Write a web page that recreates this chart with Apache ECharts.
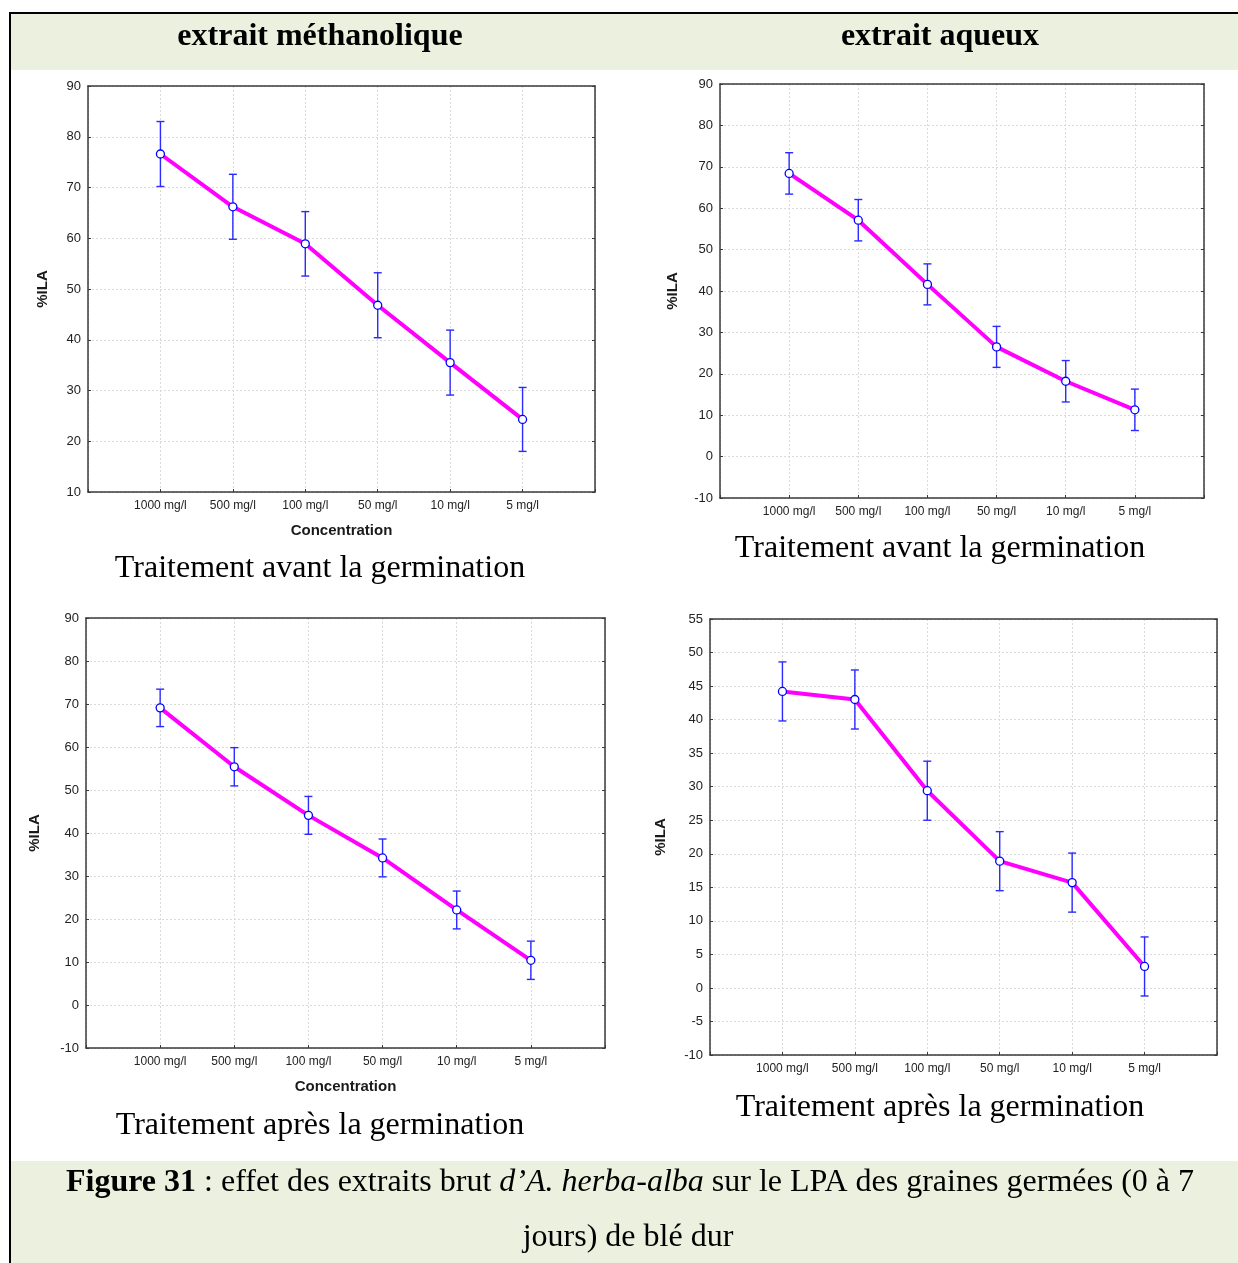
<!DOCTYPE html>
<html>
<head>
<meta charset="utf-8">
<script src="https://cdn.jsdelivr.net/npm/echarts@6/dist/echarts.min.js"></script>
<style>
html,body{margin:0;padding:0;background:#fff;}
#c{width:1238px;height:1263px;}
</style>
</head>
<body>
<div id="c"></div>
<script>
// ---- data ----
var categories = ['1000 mg/l', '500 mg/l', '100 mg/l', '50 mg/l', '10 mg/l', '5 mg/l'];

var methAvant    = [76.6, 66.2, 58.9, 46.8, 35.5, 24.3];
var methAvantErr = [6.4, 6.4, 6.35, 6.4, 6.4, 6.3];

var aqAvant      = [68.4, 57.1, 41.6, 26.5, 18.2, 11.3];
var aqAvantErr   = [5.0, 5.0, 4.95, 4.95, 5.0, 5.0];

var methApres    = [69.1, 55.4, 44.1, 34.2, 22.1, 10.4];
var methApresErr = [4.35, 4.45, 4.4, 4.4, 4.4, 4.45];

var aqApres      = [44.2, 43.0, 29.4, 18.9, 15.7, 3.2];
var aqApresErr   = [4.4, 4.4, 4.4, 4.4, 4.4, 4.4];

// y axis ranges: [min, max, interval]
var yRangeMethAvant = [10, 90, 10];
var yRangeAqAvant   = [-10, 90, 10];
var yRangeMethApres = [-10, 90, 10];
var yRangeAqApres   = [-10, 55, 5];

var headerLeft  = 'extrait méthanolique';
var headerRight = 'extrait aqueux';
var captionAvant = 'Traitement avant la germination';
var captionApres = 'Traitement après la germination';
var yName = '%ILA';
var xName = 'Concentration';

// ---- chart ----
var xData = [''].concat(categories, ['']);

var panels = [
  {vals: methAvant, errs: methAvantErr, yr: yRangeMethAvant, grid: {left: 88, top: 86, width: 507, height: 406}, yGap: 38, xName: true},
  {vals: aqAvant, errs: aqAvantErr, yr: yRangeAqAvant, grid: {left: 720, top: 84, width: 484, height: 414}, yGap: 40, xName: false},
  {vals: methApres, errs: methApresErr, yr: yRangeMethApres, grid: {left: 86, top: 618, width: 519, height: 430}, yGap: 44, xName: true},
  {vals: aqApres, errs: aqApresErr, yr: yRangeAqApres, grid: {left: 710, top: 619, width: 507, height: 436}, yGap: 42, xName: false}
];

var labelFont = 'Liberation Sans';
var frameColor = '#3a3a3a';
var gridLine = {show: true, lineStyle: {color: '#dadada', type: [2, 2], width: 1}};
var grids = [], xAxes = [], yAxes = [], series = [];

panels.forEach(function (p, gi) {
  grids.push({left: p.grid.left, top: p.grid.top, width: p.grid.width, height: p.grid.height, show: false});
  xAxes.push({
    type: 'category', gridIndex: gi, data: xData, boundaryGap: false, position: 'bottom',
    name: p.xName ? xName : '', nameLocation: 'middle', nameGap: 31,
    nameTextStyle: {fontFamily: labelFont, fontWeight: 'bold', fontSize: 15, color: '#1a1a1a'},
    axisLine: {onZero: false, lineStyle: {color: frameColor, width: 1.5}},
    axisTick: {inside: true, length: 3, lineStyle: {color: frameColor}},
    axisLabel: {fontFamily: labelFont, fontSize: 12, color: '#222', margin: 8, interval: 0},
    splitLine: gridLine
  });
  xAxes.push({
    type: 'category', gridIndex: gi, data: xData, boundaryGap: false, position: 'top',
    axisLine: {onZero: false, lineStyle: {color: frameColor, width: 1.5}},
    axisTick: {show: false}, axisLabel: {show: false}, splitLine: {show: false}
  });
  yAxes.push({
    type: 'value', gridIndex: gi, min: p.yr[0], max: p.yr[1], interval: p.yr[2], position: 'left',
    name: yName, nameLocation: 'middle', nameGap: p.yGap, nameRotate: 90,
    nameTextStyle: {fontFamily: labelFont, fontWeight: 'bold', fontSize: 15, color: '#1a1a1a'},
    axisLine: {show: true, onZero: false, lineStyle: {color: frameColor, width: 1.5}},
    axisTick: {show: true, inside: true, length: 3, lineStyle: {color: frameColor}},
    axisLabel: {fontFamily: labelFont, fontSize: 13, color: '#222', margin: 7},
    splitLine: gridLine
  });
  yAxes.push({
    type: 'value', gridIndex: gi, position: 'right', min: p.yr[0], max: p.yr[1], interval: p.yr[2],
    axisLine: {show: true, onZero: false, lineStyle: {color: frameColor, width: 1.5}},
    axisTick: {show: true, inside: true, length: 3, lineStyle: {color: frameColor}},
    axisLabel: {show: false}, splitLine: {show: false}
  });
  var xIdx = gi * 2, yIdx = gi * 2;
  series.push({
    type: 'custom', xAxisIndex: xIdx, yAxisIndex: yIdx, z: 3,
    data: p.vals.map(function (v, i) { return [i + 1, v - p.errs[i], v + p.errs[i]]; }),
    renderItem: function (params, api) {
      var x = api.value(0);
      var lo = api.coord([x, api.value(1)]);
      var hi = api.coord([x, api.value(2)]);
      var w = 4;
      var st = {stroke: '#2b2bff', lineWidth: 1.4, fill: null};
      return {type: 'group', children: [
        {type: 'line', shape: {x1: hi[0], y1: hi[1], x2: lo[0], y2: lo[1]}, style: st},
        {type: 'line', shape: {x1: hi[0] - w, y1: hi[1], x2: hi[0] + w, y2: hi[1]}, style: st},
        {type: 'line', shape: {x1: lo[0] - w, y1: lo[1], x2: lo[0] + w, y2: lo[1]}, style: st}
      ]};
    },
    silent: true, animation: false
  });
  series.push({
    type: 'line', xAxisIndex: xIdx, yAxisIndex: yIdx, z: 4,
    data: p.vals.map(function (v, i) { return [i + 1, v]; }),
    lineStyle: {color: '#ff00ff', width: 4},
    symbol: 'circle', symbolSize: 8,
    itemStyle: {color: '#ffffff', borderColor: '#0000ff', borderWidth: 1.3},
    showSymbol: true, animation: false, silent: true
  });
});

var serif = 'Liberation Serif';
function txt(x, y, s, font) {
  return {type: 'text', x: x, y: y, style: {text: s, font: font, fill: '#000', textAlign: 'center', textVerticalAlign: 'middle'}};
}
var graphic = [
  {type: 'rect', z: -10, shape: {x: 11, y: 14, width: 1227, height: 56}, style: {fill: '#ebf1de'}},
  {type: 'rect', z: -10, shape: {x: 11, y: 1161, width: 1227, height: 102}, style: {fill: '#ebf1de'}},
  {type: 'line', z: 10, shape: {x1: 9, y1: 13, x2: 1238, y2: 13}, style: {stroke: '#000', lineWidth: 2}},
  {type: 'line', z: 10, shape: {x1: 10, y1: 12, x2: 10, y2: 1263}, style: {stroke: '#000', lineWidth: 2}},
  txt(320, 37, headerLeft, 'bold 32px "' + serif + '"'),
  txt(940, 37, headerRight, 'bold 32px "' + serif + '"'),
  txt(320, 569, captionAvant, '32px "' + serif + '"'),
  txt(940, 549, captionAvant, '32px "' + serif + '"'),
  txt(320, 1126, captionApres, '32px "' + serif + '"'),
  txt(940, 1108, captionApres, '32px "' + serif + '"'),
  {type: 'text', x: 630, y: 1183, style: {
    text: '{b|Figure 31} : effet des extraits brut {i|d’A. herba-alba} sur le LPA des graines germées (0 à 7',
    font: '32px "' + serif + '"', fill: '#000', textAlign: 'center', textVerticalAlign: 'middle',
    rich: {
      b: {fontFamily: serif, fontSize: 32, fontWeight: 'bold', fill: '#000'},
      i: {fontFamily: serif, fontSize: 32, fontStyle: 'italic', fill: '#000'}
    }
  }},
  txt(628, 1238, 'jours) de blé dur', '32px "' + serif + '"')
];

var chart = echarts.init(document.getElementById('c'), null, {renderer: 'canvas'});
chart.setOption({
  backgroundColor: '#ffffff',
  animation: false,
  grid: grids,
  xAxis: xAxes,
  yAxis: yAxes,
  series: series,
  graphic: graphic
});
</script>
</body>
</html>
